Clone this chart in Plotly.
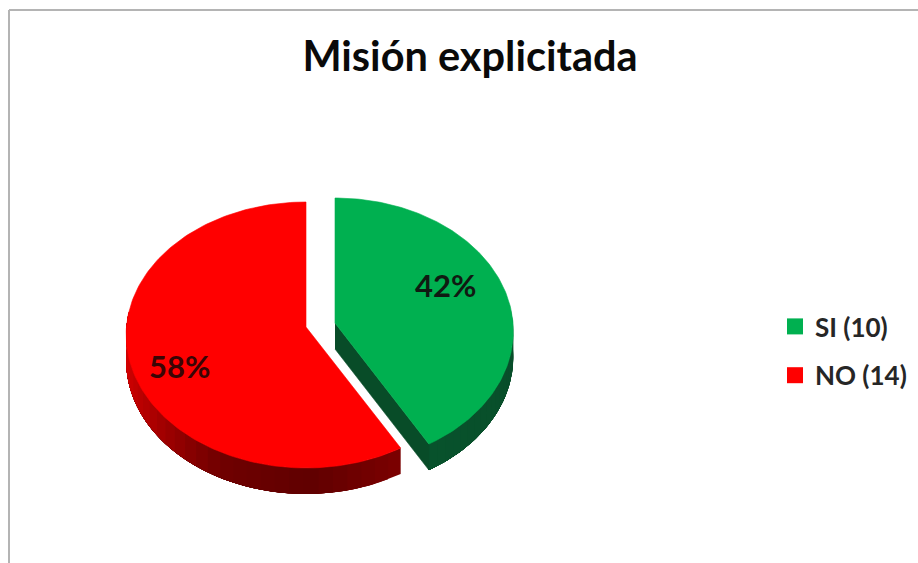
import math
import plotly.graph_objects as go

# Survey results
categories = ["SI", "NO"]
counts = [10, 14]
title_text = "Misión explicitada"

# Slice styling
TOP_COLORS = {"SI": "#00b050", "NO": "#ff0000"}
FONT = "Lato, Carlito, Calibri, sans-serif"

# Layout of the tilted pie, in pixels on a 918x563 canvas
APEX = {"SI": (335, 323), "NO": (306, 327)}
LABEL_AT = {"SI": (445, 285), "NO": (179, 366)}
RADIUS_X = {"SI": 178, "NO": 179.5}
RADIUS_Y = 132.5
PERSPECTIVE = 0.06
DEPTH = 26


def rim(name, angle, lift=0.0):
    """Project a rim point; the angle runs clockwise from twelve o'clock."""
    x, y = math.sin(angle), -math.cos(angle)
    w = 1 - PERSPECTIVE * y
    ax, ay = APEX[name]
    return ax + RADIUS_X[name] * x / w, ay + RADIUS_Y * y / w + lift


def mix(stops, t):
    """Interpolate RGB stops for a position t in 0..1."""
    t = min(max(t, 0), 1) * (len(stops) - 1)
    i = min(int(t), len(stops) - 2)
    f = t - i
    rgb = [round(a + (b - a) * f) for a, b in zip(stops[i], stops[i + 1])]
    return f"rgb({rgb[0]},{rgb[1]},{rgb[2]})"


def polygon(xs, ys, color, edge=0.6):
    return go.Scatter(x=xs, y=ys, mode="lines", fill="toself", fillcolor=color,
                      line=dict(color=color, width=edge), hoverinfo="skip",
                      showlegend=False)


# Angular span of each slice, derived from the counts
total = sum(counts)
spans = {}
start = 0.0
for name, count in zip(categories, counts):
    end = start + 2 * math.pi * count / total
    spans[name] = (start, end)
    start = end

fig = go.Figure()

# Shaded outer wall of each slice; bands run from the far end so that each
# one overlaps the previous and no seams appear between them
WALL_STOPS = {
    "SI": [(8, 76, 40), (6, 72, 38), (8, 78, 42), (8, 82, 44)],
    "NO": [(122, 0, 0), (96, 0, 0), (112, 0, 0), (170, 0, 0), (214, 0, 0)],
}
for name in ["NO", "SI"]:
    a0, a1 = spans[name]
    steps = 48
    for i in range(steps):
        p = a0 + (a1 - a0) * i / steps
        mid = a0 + (a1 - a0) * (i + 0.5) / steps
        if math.cos(mid) > 0.12:
            continue
        t = (p - a0) / (a1 - a0) if name == "SI" else (p - a0) / (0.52 * (a1 - a0))
        # Each band reaches to the lit end of the visible rim; later bands paint over it
        fine = [p + (a1 - p) * j / 60 for j in range(61) if math.cos(p + (a1 - p) * j / 60) <= 0.12]
        top = [rim(name, a) for a in fine]
        xs = [c[0] for c in top] + [c[0] for c in reversed(top)]
        ys = [c[1] for c in top] + [c[1] + DEPTH for c in reversed(top)]
        fig.add_trace(polygon(xs, ys, mix(WALL_STOPS[name], t), edge=0))

# Cut face of the SI slice, visible along its lower edge
ax, ay = APEX["SI"]
tx, ty = rim("SI", spans["SI"][1])
fig.add_trace(polygon([ax, tx, tx, ax], [ay, ty, ty + DEPTH, ay + DEPTH], "#084c28"))

# Top faces
for name in ["NO", "SI"]:
    a0, a1 = spans[name]
    steps = 160
    pts = [rim(name, a0 + (a1 - a0) * i / steps) for i in range(steps + 1)]
    ax, ay = APEX[name]
    xs = [ax] + [p[0] for p in pts] + [ax]
    ys = [ay] + [p[1] for p in pts] + [ay]
    fig.add_trace(polygon(xs, ys, TOP_COLORS[name]))

# Legend entries carrying the counts
for name, count in zip(categories, counts):
    fig.add_trace(go.Scatter(x=[None], y=[None], mode="markers", name=f"{name} ({count})",
                             legendgroup=name,
                             marker=dict(symbol="square", size=16, color=TOP_COLORS[name])))

# Percentage labels
for name, count in zip(categories, counts):
    lx, ly = LABEL_AT[name]
    fig.add_annotation(x=lx, y=ly, text=f"<b>{round(100 * count / total)}%</b>", showarrow=False,
                       font=dict(family=FONT, size=31, color="#101a12" if name == "SI" else "#3a0505"))

# Chart frame: only the top and left edges show
fig.add_shape(type="line", x0=9, x1=918, y0=10, y1=10, line=dict(color="#b4b4b4", width=2))
fig.add_shape(type="line", x0=9, x1=9, y0=10, y1=563, line=dict(color="#b4b4b4", width=2))

fig.update_layout(
    width=918, height=563, autosize=False,
    margin=dict(l=0, r=0, t=0, b=0),
    paper_bgcolor="white", plot_bgcolor="white",
    title=dict(text=f"<b>{title_text}</b>", x=470 / 918, xanchor="center",
               y=1 - 56 / 563, yanchor="middle",
               font=dict(family=FONT, size=41.5, color="#0a0a0a")),
    xaxis=dict(range=[0, 918], visible=False, fixedrange=True),
    yaxis=dict(range=[563, 0], visible=False, fixedrange=True),
    showlegend=True,
    legend=dict(x=775 / 918, xanchor="left", y=1 - 303 / 563, yanchor="top",
                bgcolor="rgba(0,0,0,0)", tracegroupgap=12, itemwidth=30,
                font=dict(family=FONT, size=26, color="#262626", weight="bold")),
)

fig.write_html("out.html", config={"displayModeBar": False})
